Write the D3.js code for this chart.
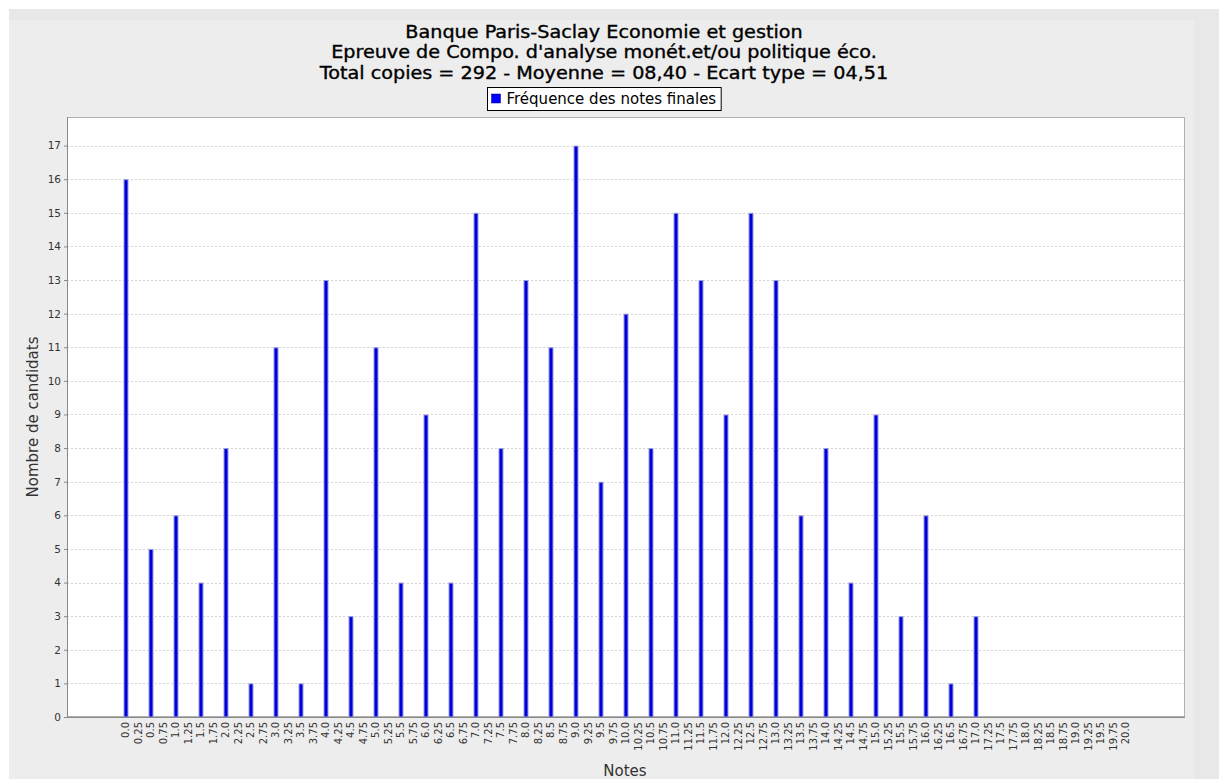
<!DOCTYPE html>
<html><head><meta charset="utf-8">
<script src="https://cdn.jsdelivr.net/npm/d3@7"></script>
<style>
html,body{margin:0;padding:0;background:#fff;}
svg{display:block;font-family:"DejaVu Sans",sans-serif;}
</style></head>
<body><svg id="c" width="1219" height="779"></svg>
<script>
const titleLines = [
  "Banque Paris-Saclay Economie et gestion",
  "Epreuve de Compo. d'analyse monét.et/ou politique éco.",
  "Total copies = 292 - Moyenne = 08,40 -  Ecart type = 04,51"
];
const seriesName = "Fréquence des notes finales";
const xLabel = "Notes";
const yLabel = "Nombre de candidats";
const categories = ["0.0","0.25","0.5","0.75","1.0","1.25","1.5","1.75","2.0","2.25","2.5","2.75","3.0","3.25","3.5","3.75","4.0","4.25","4.5","4.75","5.0","5.25","5.5","5.75","6.0","6.25","6.5","6.75","7.0","7.25","7.5","7.75","8.0","8.25","8.5","8.75","9.0","9.25","9.5","9.75","10.0","10.25","10.5","10.75","11.0","11.25","11.5","11.75","12.0","12.25","12.5","12.75","13.0","13.25","13.5","13.75","14.0","14.25","14.5","14.75","15.0","15.25","15.5","15.75","16.0","16.25","16.5","16.75","17.0","17.25","17.5","17.75","18.0","18.25","18.5","18.75","19.0","19.25","19.5","19.75","20.0"];
const values = [16,0,5,0,6,0,4,0,8,0,1,0,11,0,1,0,13,0,3,0,11,0,4,0,9,0,4,0,15,0,8,0,13,0,11,0,17,0,7,0,12,0,8,0,15,0,13,0,9,0,15,0,13,0,6,0,8,0,4,0,9,0,3,0,6,0,1,0,3,0,0,0,0,0,0,0,0,0,0,0,0];
const yTicks = [0,1,2,3,4,5,6,7,8,9,10,11,12,13,14,15,16,17];

const svg = d3.select("#c");
const W = 1219, H = 779;
svg.append("rect").attr("width",W).attr("height",H).attr("fill","#ffffff");
svg.append("rect").attr("x",9).attr("y",9).attr("width",W-9).attr("height",H-9).attr("fill","#e8e8e8");
svg.append("rect").attr("x",9).attr("y",20).attr("width",1185).attr("height",H-20).attr("fill","#ededed");

const plot = {left:67, right:1185, top:117, bottom:717};

// titles: measure natural width at 19.2px, render at 17.4px stretched to that width
titleLines.forEach((t,i)=>{
  const tmp = svg.append("text").attr("font-size",19.2).text(t);
  const wNat = tmp.node().getComputedTextLength();
  tmp.remove();
  svg.append("text").attr("x",604).attr("y",37.5+i*20.5).attr("text-anchor","middle")
    .attr("font-size",17.4).attr("textLength",wNat).attr("lengthAdjust","spacingAndGlyphs")
    .attr("stroke","#000").attr("stroke-width",0.35).attr("fill","#000").text(t);
});

// legend
const lg = svg.append("g");
const legText = lg.append("text").attr("y",104).attr("font-size",15).attr("fill","#000").text(seriesName);
const lw = legText.node().getComputedTextLength();
const boxW = lw + 24, boxX = Math.round(604 - boxW/2) + 0.5;
legText.attr("x", boxX + 19);
lg.insert("rect","text").attr("x",boxX).attr("y",87.5).attr("width",boxW).attr("height",23).attr("fill","#fff").attr("stroke","#000");
lg.append("rect").attr("x",boxX+4).attr("y",94).attr("width",9).attr("height",9).attr("fill","#0000ff").attr("stroke","#000080").attr("stroke-width",0.5);

// plot bg
svg.append("rect").attr("x",plot.left).attr("y",plot.top).attr("width",plot.right-plot.left).attr("height",plot.bottom-plot.top).attr("fill","#fff");

const y = d3.scaleLinear().domain([0,17*1.05]).range([plot.bottom,plot.top]);
const x = d3.scaleBand().domain(categories).range([plot.left,plot.right]).paddingInner(0.6).paddingOuter(4.52);

// gridlines
svg.append("g").selectAll("line").data(yTicks.filter(d=>d>0)).join("line")
  .attr("x1",plot.left).attr("x2",plot.right)
  .attr("y1",d=>Math.round(y(d))+0.5).attr("y2",d=>Math.round(y(d))+0.5)
  .attr("stroke","#d4d4d4").attr("stroke-dasharray","2,2").attr("stroke-width",1);

svg.append("rect").attr("x",plot.left+0.5).attr("y",plot.top+0.5).attr("width",plot.right-plot.left-1).attr("height",plot.bottom-plot.top-1)
  .attr("fill","none").attr("stroke","#b0b0b0");

// bars
svg.append("g").selectAll("rect").data(categories.map((c,i)=>({c,v:values[i]})).filter(d=>d.v>0)).join("rect")
  .attr("x",d=>x(d.c)+0.5).attr("width",x.bandwidth()-1)
  .attr("y",d=>y(d.v)+0.5).attr("height",d=>y(0)-y(d.v)-0.5)
  .attr("fill","#0000dd").attr("stroke","#9a9ae0").attr("stroke-width",1);

// y axis
const ya = svg.append("g").attr("transform",`translate(${plot.left},0)`)
  .call(d3.axisLeft(y).tickValues(yTicks).tickSize(3).tickPadding(3).tickFormat(d3.format("d")));
ya.select(".domain").attr("stroke","#888").attr("d",`M0.5,${plot.top}V${plot.bottom}`);
ya.selectAll(".tick line").attr("stroke","#888");
ya.selectAll(".tick text").attr("font-family","DejaVu Sans").attr("font-size",10.5).attr("fill","#333");

// x axis
const xa = svg.append("g").attr("transform",`translate(0,${plot.bottom})`)
  .call(d3.axisBottom(x).tickSize(0).tickPadding(0));
xa.select(".domain").attr("stroke","#888").attr("d",`M${plot.left},0.5H${plot.right}`);
xa.selectAll(".tick text").attr("font-family","DejaVu Sans").attr("font-size",10).attr("fill","#333")
  .attr("transform","rotate(-90)").attr("text-anchor","end").attr("dy","0.32em").attr("x",-5).attr("y",0);

// axis labels
svg.append("text").attr("x",625).attr("y",776).attr("text-anchor","middle").attr("font-size",15).attr("fill","#333").text(xLabel);
svg.append("text").attr("transform",`translate(38,${(plot.top+plot.bottom)/2}) rotate(-90)`).attr("text-anchor","middle")
  .attr("font-size",15).attr("fill","#333").text(yLabel);
</script></body></html>
